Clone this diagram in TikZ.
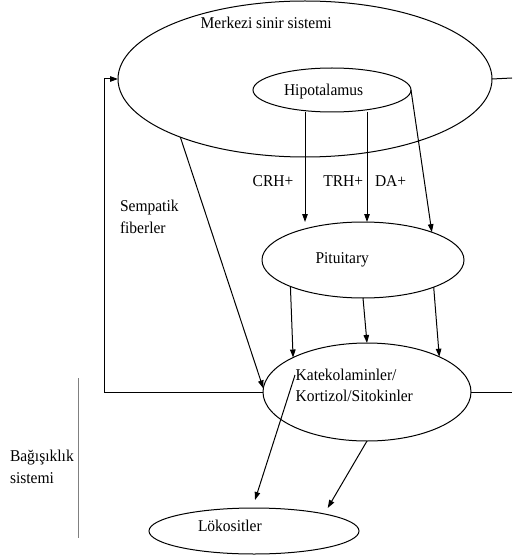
\documentclass[tikz,border=0pt]{standalone}
\usepackage{fontspec}
\setmainfont{Liberation Serif}[FakeStretch=0.94]
\usetikzlibrary{shapes.geometric,arrows.meta,calc}
\begin{document}
\begin{tikzpicture}[x=1pt,y=-1pt,
  line width=1pt,
  oval/.style={draw,ellipse,inner sep=0pt,outer sep=0pt},
  lbl/.style={inner sep=0pt,outer sep=0pt,anchor=base west,align=left,
    font=\fontsize{16.5}{21.6}\selectfont},
  arr/.style={-{Triangle[length=8pt,width=5.5pt]}}]
\useasboundingbox (0,0) rectangle (512,556);
% ellipses
\node[oval,minimum width=374pt,minimum height=156pt] (mms) at (305,79) {};
\node[oval,minimum width=158pt,minimum height=44pt] (hip) at (332,90) {};
\node[oval,minimum width=202pt,minimum height=76pt] (pit) at (363,260) {};
\node[oval,minimum width=208pt,minimum height=98pt] (kat) at (367,392) {};
\node[oval,minimum width=210pt,minimum height=46pt] (lok) at (254,531) {};
% texts (multi-line nodes: anchor at the last line's baseline)
\node[lbl] (tmms) at (200.7,28.3) {Merkezi sinir sistemi};
\node[lbl] (thip) at (284,95.5) {Hipotalamus};
\node[lbl] (tcrh) at (252.7,186.7) {CRH+};
\node[lbl] (ttrh) at (323.3,186.7) {TRH+};
\node[lbl] (tda) at (375,186.7) {DA+};
\node[lbl] (tsem) at (120,233) {Sempatik\\fiberler};
\node[lbl] (tpit) at (315.5,263.3) {Pituitary};
\node[lbl] (tkat) at (295.7,401.7) {Katekolaminler/\\Kortizol/Sitokinler};
\node[lbl] (tbag) at (10,483.3) {Bağışıklık\\sistemi};
\node[lbl] (tlok) at (198,531.7) {Lökositler};
% helper coordinates
\coordinate (xcrh) at (305,0);
\coordinate (xtrh) at (367,0);
\coordinate (fb) at (104,392);
\coordinate (redge1) at (512,78);
\coordinate (redge2) at (512,392);
\coordinate (k1) at (295,375);
\coordinate (l1) at (255,500);
\coordinate (l2) at (327.7,508);
\coordinate (bartop) at (78.7,378);
\coordinate (barbot) at (78.7,538);
% connectors
\draw[arr] (hip.south -| xcrh) -- (pit.north -| xcrh);
\draw[arr] (hip.south -| xtrh) -- (pit.north -| xtrh);
\draw[arr] (hip.east) -- (pit.22.5);
\draw[arr] (mms.205.4) -- (kat.178);
\draw[arr] (pit.200.8) -- (kat.155.6);
\draw[arr] (pit.south) -- (kat.north);
\draw[arr] (pit.339.2) -- (kat.26.2);
\draw[arr] (kat.west) -- (fb) |- (mms.west);
\draw (mms.east) -- (redge1);
\draw (kat.east) -- (redge2);
\draw[arr] (k1) -- (l1);
\draw[arr] (kat.south) -- (l2);
\draw[gray,line width=1pt] (bartop) -- (barbot);
\end{tikzpicture}
\end{document}
